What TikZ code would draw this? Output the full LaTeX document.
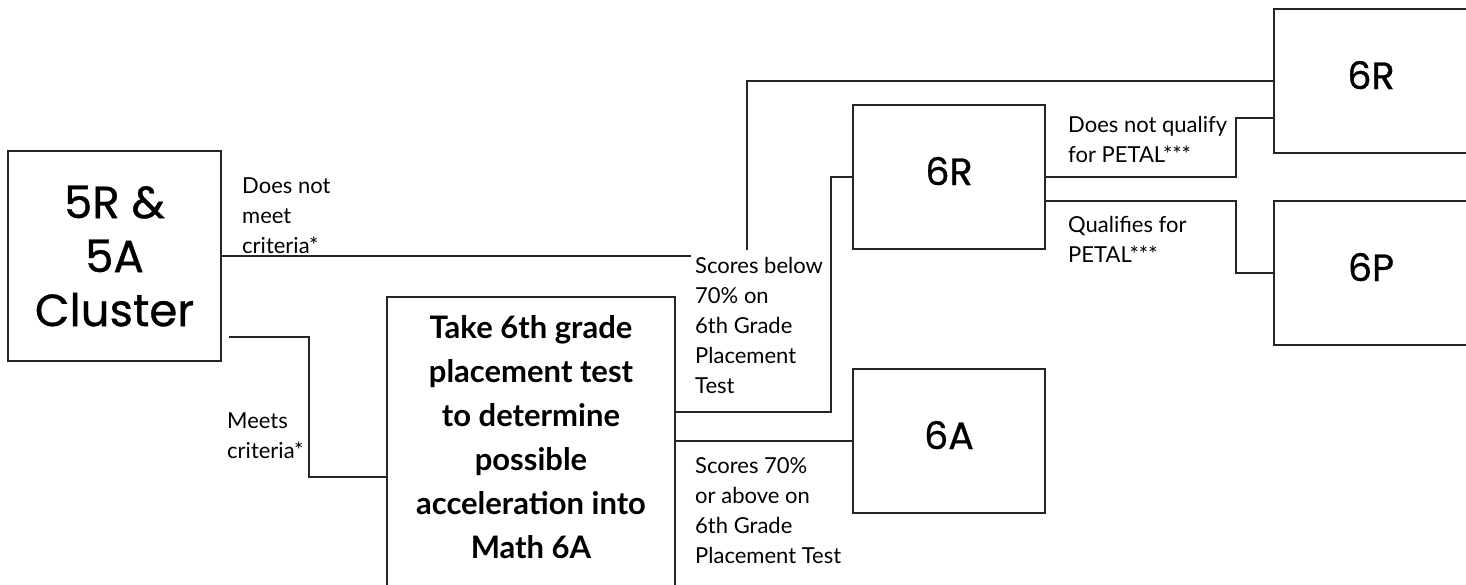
\documentclass[tikz,border=0pt]{standalone}
\usepackage{fontspec}
\newfontfamily\latof{Lato}
\newfontfamily\popf[FakeBold=0.8]{Poppins}
\begin{document}
\begin{tikzpicture}[x=1pt,y=-1pt,
  conn/.style={draw=black!85,line width=1.2pt},
  bigbox/.style={draw=black!85,line width=1.2pt,inner sep=0pt,
     font=\popf\fontsize{45}{54}\selectfont,align=center},
  gradebox/.style={draw=black!85,line width=1.2pt,inner sep=0pt,text depth=12pt,
     font=\popf\fontsize{38}{44}\selectfont},
  lbl/.style={anchor=north west,inner sep=0pt,align=left,
     font=\latof\fontsize{22}{30}\selectfont},
  takelbl/.style={anchor=north,inner sep=0pt,align=center,
     font=\latof\bfseries\fontsize{31}{44}\selectfont}]
\useasboundingbox (0,0) rectangle (1466,584);
\clip (0,0) rectangle (1466,584);
\fill[white] (0,0) rectangle (1466,584);
% boxes
\node[bigbox,minimum width=213pt,minimum height=210pt] (cluster) at (114.5,256) {5R \&\\5A\\Cluster};
\node[draw=black!85,line width=1.2pt,inner sep=0pt,minimum width=288pt,minimum height=403pt] (take) at (531,498.5) {};
\node[takelbl] (taketxt) at (531,314) {\rule{0pt}{24pt}Take 6th grade\\placement test\\to determine\\possible\\acceleration into\\Math 6A};
\node[gradebox,minimum width=192pt,minimum height=144pt] (mid6r) at (949,177) {6R};
\node[gradebox,minimum width=192pt,minimum height=144pt] (a6) at (949,441) {6A};
\node[gradebox,minimum width=194pt,minimum height=144pt] (top6r) at (1371,81) {6R};
\node[gradebox,minimum width=194pt,minimum height=144pt] (p6) at (1371,273) {6P};
% free ends
\coordinate (c1) at (691,256);
\coordinate (c2) at (747,250);
\coordinate (c3) at (229,337);
% connectors
\draw[conn] (cluster.east) -- (c1);
\draw[conn] (c2) |- (top6r.west);
\draw[conn] (c3) -- (309,337) |- (take.west |- 0,477);
\draw[conn] (take.east |- 0,412) -- (831,412) |- (mid6r.west);
\draw[conn] (take.east |- a6.west) -- (a6.west);
\draw[conn] (mid6r.east) -- (1236,177) |- (top6r.west |- 0,118);
\draw[conn] (mid6r.east |- 0,201) -- (1236,201) |- (p6.west);
% labels
\node[lbl] (l1) at (242,177) {\rule{0pt}{16pt}Does not\\meet\\criteria*};
\node[lbl] (l2) at (695,257) {\rule{0pt}{16pt}Scores below\\70\% on\\6th Grade\\Placement\\Test};
\node[lbl] (l3) at (695,457) {\rule{0pt}{16pt}Scores 70\%\\or above on\\6th Grade\\Placement Test};
\node[lbl] (l4) at (1068,116) {\rule{0pt}{16pt}Does not qualify\\for PETAL***};
\node[lbl] (l5) at (1068,216) {\rule{0pt}{16pt}Qualifies for\\PETAL***};
\node[lbl] (l6) at (227,412) {\rule{0pt}{16pt}Meets\\criteria*};
\end{tikzpicture}
\end{document}
